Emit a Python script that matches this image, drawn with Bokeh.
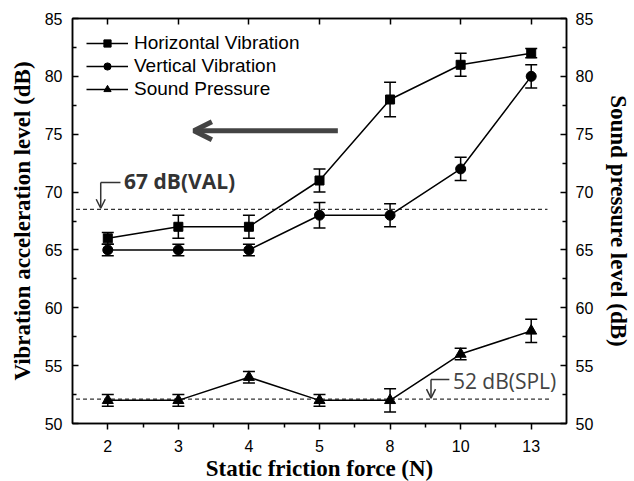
from bokeh.plotting import figure
from bokeh.models import (ColumnDataSource, Whisker, TeeHead, LinearAxis, Range1d,
                          FixedTicker, Arrow, OpenHead, Label, Legend, LegendItem,
                          CustomLabelingPolicy)
from bokeh.embed import file_html
from bokeh.resources import INLINE

# ---- data ----
forces = ["2", "3", "4", "5", "8", "10", "13"]
horizontal = [66, 67, 67, 71, 78, 81, 82]
horizontal_err = [0.5, 1.0, 1.0, 1.0, 1.5, 1.0, 0.4]
vertical = [65, 65, 65, 68, 68, 72, 80]
vertical_err = [0.5, 0.5, 0.5, 1.1, 1.0, 1.0, 1.0]
sound = [52, 52, 54, 52, 52, 56, 58]
sound_err = [0.5, 0.5, 0.5, 0.5, 1.0, 0.5, 1.0]
val_level = 68.5
spl_level = 52.1
y_ticks = [50, 55, 60, 65, 70, 75, 80, 85]

idx = list(range(len(forces)))

p = figure(frame_width=494, frame_height=405, output_backend="svg", toolbar_location=None,
           x_range=Range1d(-0.5, 6.5), y_range=Range1d(50, 85),
           min_border_left=72, min_border_right=64, min_border_top=18, min_border_bottom=54)
p.xgrid.visible = False
p.ygrid.visible = False
p.outline_line_color = "black"
p.outline_line_width = 1.5
p.background_fill_color = "white"

FONT = "Liberation Sans"
LABEL_FONT = "Liberation Serif"


def style_axis(ax, tick_in, tick_out, minor_in, minor_out):
    ax.axis_label_text_font = LABEL_FONT
    ax.axis_label_text_font_style = "bold"
    ax.axis_label_text_font_size = "23px"
    ax.axis_label_text_color = "black"
    ax.major_label_text_font = FONT
    ax.major_label_text_font_size = "16px"
    ax.major_label_text_color = "black"
    ax.major_tick_in = tick_in
    ax.major_tick_out = tick_out
    ax.minor_tick_in = minor_in
    ax.minor_tick_out = minor_out
    ax.axis_line_width = 1.5
    ax.major_tick_line_width = 1.5
    ax.minor_tick_line_width = 1.5


# bottom axis
xa = p.xaxis[0]
xa.ticker = FixedTicker(ticks=idx, minor_ticks=[i + 0.5 for i in idx[:-1]])
xa.major_label_overrides = {i: f for i, f in zip(idx, forces)}
xa.axis_label = "Static friction force (N)"
style_axis(xa, 0, 6, 0, 4)
xa.axis_label_standoff = 1
xa.major_label_standoff = 10

# left axis
ya = p.yaxis[0]
ya.ticker = FixedTicker(ticks=y_ticks, minor_ticks=[t + 2.5 for t in y_ticks[:-1]])
ya.axis_label = "Vibration acceleration level (dB)"
style_axis(ya, 6, 0, 4, 0)
ya.axis_label_standoff = 7
ya.major_label_standoff = 10

# right axis
p.extra_y_ranges = {"right": Range1d(50, 85)}
ra = LinearAxis(y_range_name="right",
                ticker=FixedTicker(ticks=y_ticks, minor_ticks=[t + 2.5 for t in y_ticks[:-1]]))
ra.axis_label = "Sound pressure level (dB)"
style_axis(ra, 6, 0, 4, 0)
ra.axis_label_standoff = 10
ra.major_label_standoff = 9
p.add_layout(ra, "right")

# top axis (ticks only, no labels drawn)
ta = LinearAxis(ticker=FixedTicker(ticks=idx))
ta.major_label_policy = CustomLabelingPolicy(code="return new Set()")
ta.major_label_text_font_size = "1px"
ta.major_label_standoff = 0
ta.major_tick_in = 6
ta.major_tick_out = 0
ta.minor_tick_line_color = None
ta.axis_line_width = 1.5
ta.major_tick_line_width = 1.5
p.add_layout(ta, "above")

# dashed threshold lines
p.segment(x0=[-0.45, -0.45], y0=[val_level, spl_level], x1=[6.23, 6.26], y1=[val_level, spl_level],
          line_color="#333333", line_width=1.3, line_dash="4 3")

items = []
series = [("Horizontal Vibration", horizontal, horizontal_err, "square", 9),
          ("Vertical Vibration", vertical, vertical_err, "circle", 10),
          ("Sound Pressure", sound, sound_err, "triangle", 11)]
for name, vals, errs, marker, size in series:
    src = ColumnDataSource(dict(x=idx, y=vals,
                                upper=[v + e for v, e in zip(vals, errs)],
                                lower=[v - e for v, e in zip(vals, errs)]))
    w = Whisker(source=src, base="x", upper="upper", lower="lower", line_color="black",
                line_width=1.5,
                upper_head=TeeHead(size=12, line_width=1.5, line_color="black"),
                lower_head=TeeHead(size=12, line_width=1.5, line_color="black"))
    p.add_layout(w)
    ln = p.line("x", "y", source=src, line_color="black", line_width=1.5)
    sc = p.scatter("x", "y", source=src, marker=marker, size=size, color="black")
    items.append(LegendItem(label=name, renderers=[ln, sc]))

legend = Legend(items=items, location="top_left", label_text_font=FONT,
                label_text_font_size="19px", label_text_color="black",
                glyph_width=42, glyph_height=18,
                label_height=18, spacing=1, padding=0, margin=14, label_standoff=6,
                border_line_color=None, background_fill_alpha=0)
p.add_layout(legend, "center")

# big arrow
p.add_layout(Arrow(end=OpenHead(size=18, line_width=5, line_color="#444444"),
                   x_start=3.26, y_start=75.3, x_end=1.22, y_end=75.3,
                   line_width=5, line_color="#444444"))

# annotations
p.segment(x0=[-0.1, 4.58], y0=[70.83, 53.8], x1=[0.18, 4.84], y1=[70.83, 53.8],
          line_color="#333333", line_width=1.5)
p.add_layout(Arrow(end=OpenHead(size=9, line_width=1.5, line_color="#333333"),
                   x_start=-0.1, y_start=70.83, x_end=-0.1, y_end=68.6,
                   line_width=1.5, line_color="#333333"))
p.add_layout(Arrow(end=OpenHead(size=9, line_width=1.5, line_color="#333333"),
                   x_start=4.58, y_start=53.8, x_end=4.58, y_end=52.2,
                   line_width=1.5, line_color="#333333"))
p.add_layout(Label(x=0.23, y=71.0, text="67 dB(VAL)", text_font="Open Sans",
                   text_font_style="bold", text_font_size="21px", text_color="#333333",
                   text_baseline="middle"))
p.add_layout(Label(x=4.89, y=53.7, text="52 dB(SPL)", text_font="Open Sans",
                   text_font_style="normal", text_font_size="21px", text_color="#444444",
                   text_baseline="middle"))

open("out.html", "w").write(file_html(p, INLINE))
